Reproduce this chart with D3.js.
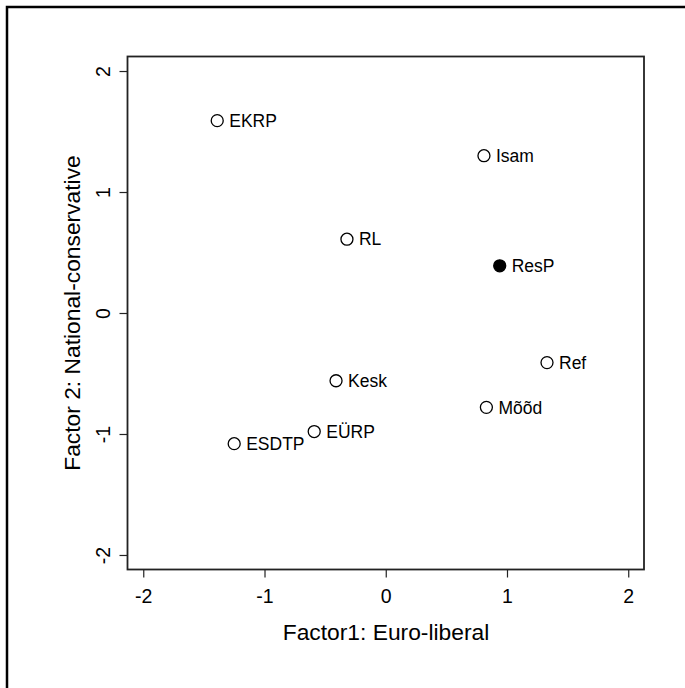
<!DOCTYPE html>
<html>
<head>
<meta charset="utf-8">
<script src="https://cdn.jsdelivr.net/npm/d3@7"></script>
<style>
body { margin: 0; background: #fff; }
text { font-family: "Liberation Sans", Arial, sans-serif; fill: #000; }
</style>
</head>
<body>
<script>
var width = 685;
var height = 688;

// party positions on the two factors
var partiti = ["EKRP", "Isam", "RL", "ResP", "Ref", "Kesk", "Mõõd", "EÜRP", "ESDTP"];
var fattore1 = [-1.39, 0.81, -0.32, 0.94, 1.33, -0.41, 0.83, -0.59, -1.25];
var fattore2 = [1.59, 1.30, 0.61, 0.39, -0.41, -0.56, -0.78, -0.98, -1.08];
var pieno = [false, false, false, true, false, false, false, false, false];

var ticks_x = [-2, -1, 0, 1, 2];
var ticks_y = [-2, -1, 0, 1, 2];

var svg = d3.select("body")
        .append("svg")
        .attr("width", width)
        .attr("height", height);

// outer frame (runs off the right and bottom)
svg.append("rect")
    .attr("x", 7)
    .attr("y", 7)
    .attr("width", 760)
    .attr("height", 760)
    .attr("fill", "none")
    .attr("stroke", "black")
    .attr("stroke-width", 2.5);

var x = d3.scaleLinear().domain([-2.13, 2.13]).range([127.5, 644]);
var y = d3.scaleLinear().domain([-2.12, 2.12]).range([569.5, 56.5]);

// x axis
var assex = svg.append("g")
    .attr("transform", "translate(0,569.5)")
    .call(d3.axisBottom(x).tickValues(ticks_x).tickSize(8).tickSizeOuter(0).tickFormat(d3.format("d")));
assex.select(".domain").remove();
assex.selectAll("line").attr("stroke", "#222").attr("stroke-width", 1.2);
assex.selectAll("text")
    .attr("dy", null)
    .attr("y", 33.5)
    .style("font-size", "19.5px")
    .style("font-family", "Liberation Sans, Arial, sans-serif")
    .text(function(d){ return d < 0 ? "-" + Math.abs(d) : d; });

// y axis
var assey = svg.append("g")
    .attr("transform", "translate(127.5,0)")
    .call(d3.axisLeft(y).tickValues(ticks_y).tickSize(8).tickSizeOuter(0));
assey.select(".domain").remove();
assey.selectAll("line").attr("stroke", "#222").attr("stroke-width", 1.2);
assey.selectAll("text")
    .attr("x", null)
    .attr("dy", null)
    .attr("transform", "translate(-18,0) rotate(-90)")
    .attr("text-anchor", "middle")
    .style("font-size", "19.5px")
    .style("font-family", "Liberation Sans, Arial, sans-serif")
    .text(function(d){ return d < 0 ? "-" + Math.abs(d) : d; });

// plot box
svg.append("rect")
    .attr("x", 127.5)
    .attr("y", 56.5)
    .attr("width", 644 - 127.5)
    .attr("height", 569.5 - 56.5)
    .attr("fill", "none")
    .attr("stroke", "#222")
    .attr("stroke-width", 1.8);

// axis titles
svg.append("text")
    .attr("x", 386)
    .attr("y", 640)
    .attr("text-anchor", "middle")
    .style("font-size", "22.8px")
    .text("Factor1: Euro-liberal");

svg.append("text")
    .attr("transform", "translate(79.5,313) rotate(-90)")
    .attr("text-anchor", "middle")
    .style("font-size", "22.8px")
    .text("Factor 2: National-conservative");

// points and labels
var gruppo = svg.append("g");
for (var i = 0; i < partiti.length; i++) {
    var px = x(fattore1[i]);
    var py = y(fattore2[i]);
    gruppo.append("circle")
        .attr("cx", px)
        .attr("cy", py)
        .attr("r", 6)
        .attr("fill", pieno[i] ? "black" : "white")
        .attr("stroke", "black")
        .attr("stroke-width", 1.3);
    gruppo.append("text")
        .attr("x", px + 12)
        .attr("y", py + 6.3)
        .style("font-size", "17.5px")
        .text(partiti[i]);
}
</script>
</body>
</html>
